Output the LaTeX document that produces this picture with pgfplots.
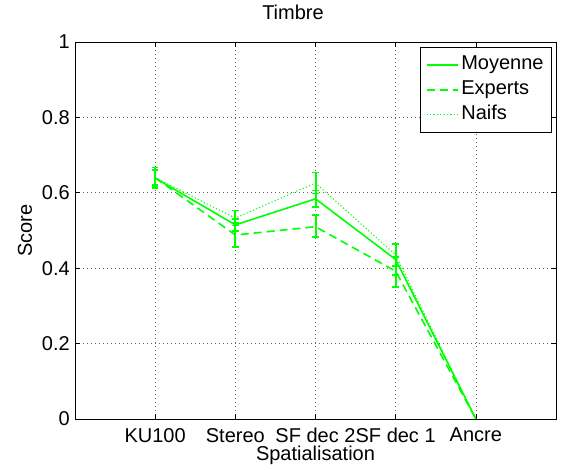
\documentclass[border=0pt]{standalone}
\usepackage{fontspec}
\setmainfont{Liberation Sans}
\usepackage{pgfplots}
\pgfplotsset{compat=1.18}

\pgfplotsset{
    ebar/.style={green, solid, line width=2bp, mark=-, mark size=3.2bp,
        mark options={solid, line width=1.8bp}, forget plot},
}

\begin{document}
\begin{tikzpicture}[font=\fontsize{20bp}{24bp}\selectfont]
    \begin{axis}[
        set layers=standard,
        axis on top=false,
        scale only axis,
        width=481bp, height=377bp,
        xmin=0, xmax=6, ymin=0, ymax=1,
        xtick={1,2,3,4,5},
        xticklabels={KU100, Stereo, SF dec 2, SF dec 1, Ancre},
        ytick={0,0.2,0.4,0.6,0.8,1},
        /pgf/number format/assume math mode=true,
        tick align=inside, xtick pos=both, ytick pos=both,
        major tick length=5bp,
        tick style={black, line width=0.6bp},
        axis line style={black, line width=0.8bp},
        grid=major,
        major grid style={black!60, line width=0.6bp, dash pattern=on 1bp off 3bp},
        xticklabel style={anchor=north, inner sep=0pt, yshift=-9bp},
        yticklabel style={anchor=east, inner sep=0pt, xshift=-5bp},
        title={Timbre},
        title style={at={(axis description cs:0.4532,1)}, anchor=base, yshift=17bp},
        xlabel={Spatialisation},
        xlabel style={at={(axis description cs:0.5,0)}, anchor=center, yshift=-36bp},
        ylabel={Score},
        ylabel style={at={(axis description cs:-0.104,0.5)}, anchor=center, rotate=0},
        legend cell align=left,
        legend style={at={(axis description cs:1,1)}, anchor=north east,
            xshift=-4bp, yshift=-5bp, draw=black, line width=0.8bp,
            inner sep=5bp, row sep=0bp, column sep=0bp,
            nodes={inner sep=3bp, text height=14.5bp, text depth=4.5bp}},
        legend image code/.code={\draw[#1] (0bp,0bp) -- (31bp,0bp);},
    ]
        % Moyenne
        \addplot[green, line width=1.6bp] coordinates {
            (1,0.639) (2,0.515) (3,0.584) (4,0.423) (5,0.000)
        };
        \addlegendentry{Moyenne}
        % Experts
        \addplot[green, line width=1.6bp, dash pattern=on 8bp off 5bp] coordinates {
            (1,0.640) (2,0.488) (3,0.510) (4,0.392) (5,0.000)
        };
        \addlegendentry{Experts}
        % Naifs
        \addplot[green, line width=1bp, dash pattern=on 1.2bp off 2.2bp] coordinates {
            (1,0.640) (2,0.533) (3,0.626) (4,0.435) (5,0.000)
        };
        \addlegendentry{Naifs}

        % error bars (lower, upper)
        % Moyenne
        \addplot[ebar] coordinates {(1,0.617) (1,0.661)};
        \addplot[ebar] coordinates {(2,0.499) (2,0.531)};
        \addplot[ebar] coordinates {(3,0.562) (3,0.606)};
        \addplot[ebar] coordinates {(4,0.381) (4,0.465)};
        % Experts
        \addplot[ebar] coordinates {(1,0.613) (1,0.667)};
        \addplot[ebar] coordinates {(2,0.456) (2,0.520)};
        \addplot[ebar] coordinates {(3,0.482) (3,0.542)};
        \addplot[ebar] coordinates {(4,0.350) (4,0.430)};
        % Naifs
        \addplot[ebar] coordinates {(1,0.620) (1,0.660)};
        \addplot[ebar] coordinates {(2,0.513) (2,0.553)};
        \addplot[ebar] coordinates {(3,0.598) (3,0.654)};
        \addplot[ebar] coordinates {(4,0.405) (4,0.465)};
    \end{axis}
    \pgfresetboundingbox
    \path[use as bounding box] (-75bp,-51bp) rectangle (487bp,419bp);
\end{tikzpicture}
\end{document}
